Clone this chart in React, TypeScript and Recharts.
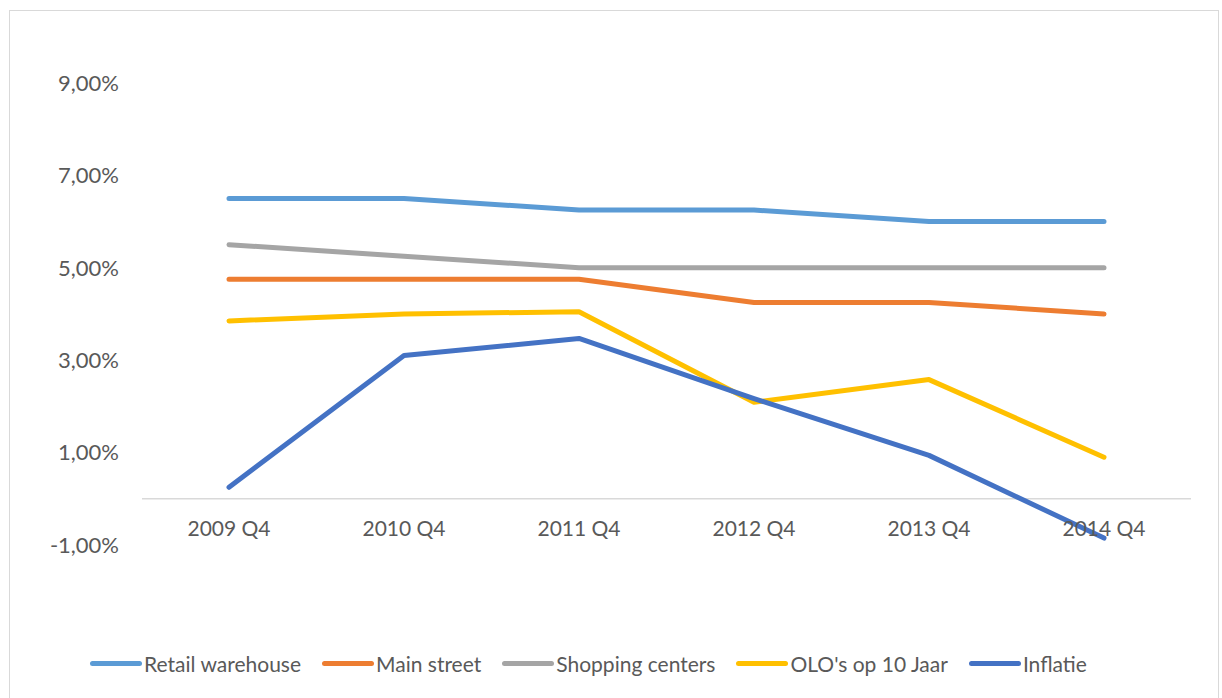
import { LineChart, Line, XAxis, YAxis, ReferenceLine } from "recharts";

const categories = ["2009 Q4", "2010 Q4", "2011 Q4", "2012 Q4", "2013 Q4", "2014 Q4"];
const retailWarehouse = [6.5, 6.5, 6.25, 6.25, 6.0, 6.0];
const mainStreet = [4.75, 4.75, 4.75, 4.25, 4.25, 4.0];
const shoppingCenters = [5.5, 5.25, 5.0, 5.0, 5.0, 5.0];
const olo10Jaar = [3.85, 4.0, 4.05, 2.09, 2.58, 0.9];
const inflatie = [0.25, 3.1, 3.47, 2.17, 0.94, -0.85];
const yTicks = [-1, 1, 3, 5, 7, 9];

const series = [
  { key: "retail", name: "Retail warehouse", color: "#5B9BD5" },
  { key: "main", name: "Main street", color: "#ED7D31" },
  { key: "shopping", name: "Shopping centers", color: "#A5A5A5" },
  { key: "olo", name: "OLO's op 10 Jaar", color: "#FFC000" },
  { key: "inflatie", name: "Inflatie", color: "#4472C4" },
];

const data = categories.map((cat, i) => ({
  cat,
  retail: retailWarehouse[i],
  main: mainStreet[i],
  shopping: shoppingCenters[i],
  olo: olo10Jaar[i],
  inflatie: inflatie[i],
}));

const FONT = "Lato, Carlito, Calibri, sans-serif";
const TEXT = "#595959";

const fmt = (v: number) => v.toFixed(2).replace(".", ",") + "%";

// legend drawn as plain html so it doesn't eat into the plot height
const ChartLegend = () => (
  <div
    style={{
      position: "absolute",
      left: 90,
      top: 651,
      display: "flex",
      alignItems: "center",
      fontFamily: FONT,
      fontSize: 21,
      color: TEXT,
      whiteSpace: "nowrap",
    }}
  >
    {series.map((s) => (
      <div key={s.key} style={{ display: "flex", alignItems: "center", marginRight: 21 }}>
        <span
          style={{
            display: "inline-block",
            width: 52,
            height: 5,
            borderRadius: 3,
            background: s.color,
            marginRight: 2,
          }}
        />
        <span>{s.name}</span>
      </div>
    ))}
  </div>
);

const App = () => {
  return (
    <div style={{ position: "absolute", left: 0, top: 0, width: 1222, height: 698 }}>
      <div
        style={{
          position: "absolute",
          left: 9,
          top: 10,
          width: 1210,
          height: 700,
          border: "1px solid #D9D9D9",
          boxSizing: "border-box",
        }}
      />
      <LineChart
        width={1222}
        height={698}
        data={data}
        margin={{ top: 83, right: 31, bottom: 123, left: 0 }}
      >
        <XAxis
          dataKey="cat"
          axisLine={false}
          tickLine={false}
          tickSize={0}
          tickMargin={0}
          height={30}
          interval={0}
          padding={{ left: 87, right: 87 }}
          tick={{ fill: TEXT, fontSize: 21, fontFamily: FONT, dy: -24 }}
        />
        <YAxis
          domain={[-1, 9]}
          ticks={yTicks}
          width={142}
          axisLine={false}
          tickLine={false}
          tickSize={0}
          tickMargin={23}
          tickFormatter={fmt}
          tick={{ fill: TEXT, fontSize: 22, fontFamily: FONT }}
        />
        <ReferenceLine y={0} stroke="#D9D9D9" strokeWidth={1.5} />
        {series.map((s) => (
          <Line
            key={s.key}
            type="linear"
            dataKey={s.key}
            name={s.name}
            stroke={s.color}
            strokeWidth={5}
            strokeLinecap="round"
            strokeLinejoin="round"
            dot={false}
            activeDot={false}
            isAnimationActive={false}
          />
        ))}
      </LineChart>
      <ChartLegend />
    </div>
  );
};

export default App;
